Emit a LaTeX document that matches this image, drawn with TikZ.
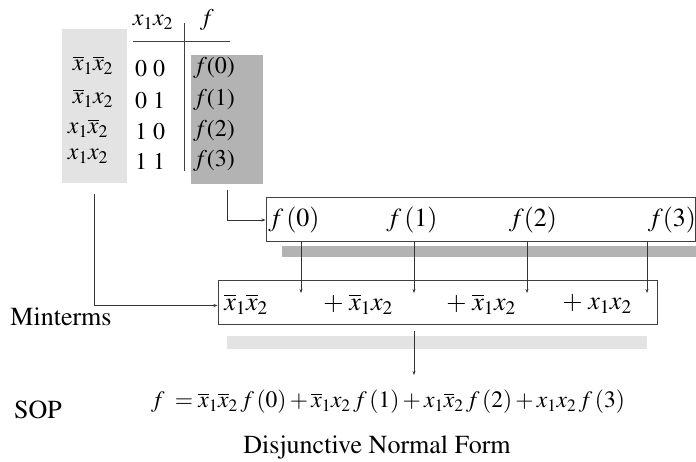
\documentclass[tikz,border=0pt]{standalone}
\usepackage[T1]{fontenc}
\usepackage{mathptmx}
\usetikzlibrary{arrows.meta}

\definecolor{lightbar}{HTML}{E3E3E3}
\definecolor{darkbar}{HTML}{B3B3B3}
\definecolor{boxline}{HTML}{404040}

\newcommand{\nx}{\overline{x}}

\tikzset{
  txt/.style={font=\rmfamily\fontsize{26}{29}\selectfont, inner sep=0pt},
  tbl/.style={font=\rmfamily\fontsize{24}{27}\selectfont, inner sep=0pt},
  eqn/.style={font=\rmfamily\fontsize{23.5}{26}\selectfont, inner sep=0pt},
  framebox/.style={draw=boxline, line width=1pt, inner sep=0pt},
  conn/.style={draw=black!80, line width=0.7pt, -{Stealth[length=4pt,width=3pt]}},
}

\begin{document}
\begin{tikzpicture}[x=1pt, y=-1pt]
  \useasboundingbox (0,0) rectangle (696,462);

  % -- Truth table columns --
  \node[fill=lightbar, minimum width=65pt, minimum height=154pt, inner sep=0pt] (mt) at (94.5,106) {};
  \node[fill=darkbar, minimum width=72pt, minimum height=129pt, inner sep=0pt] (fcol) at (227,119.5) {};

  % -- Header and rules --
  \node[tbl] (hx) at (153,22) {$x_1x_2$};
  \node[tbl] (hf) at (207,20) {$f$};
  \draw[draw=boxline, line width=1pt] (133,42) -- (230,42);
  \draw[draw=boxline, line width=1pt] (184,23) -- (184,171);

  % -- Rows --
  \node[tbl] (m0) at (93,65) {$\nx_1\nx_2$};
  \node[tbl] (m1) at (93,98) {$\nx_1x_2$};
  \node[tbl] (m2) at (88,128) {$x_1\nx_2$};
  \node[tbl] (m3) at (88,156) {$x_1x_2$};
  \node[tbl] (b0) at (150,68) {0 0};
  \node[tbl] (b1) at (150,100) {0 1};
  \node[tbl] (b2) at (150,131) {1 0};
  \node[tbl] (b3) at (150,161) {1 1};
  \node[tbl, anchor=west] (v0) at (193,68) {$f$(0)};
  \node[tbl, anchor=west] (v1) at (193,100) {$f$(1)};
  \node[tbl, anchor=west] (v2) at (193,131) {$f$(2)};
  \node[tbl, anchor=west] (v3) at (193,161) {$f$(3)};

  % -- Function values box --
  \node[framebox, minimum width=429pt, minimum height=44pt] (fbox) at (480.5,220) {};
  \fill[darkbar] (282,246) rectangle (696,257);
  \node[txt] (f0) at (294,220) {$f\,(0)$};
  \node[txt] (f1) at (412,220) {$f\,(1)$};
  \node[txt] (f2) at (533,220) {$f(2)$};
  \node[txt] (f3) at (672,220) {$f(3)$};

  % -- Minterms box --
  \node[framebox, minimum width=439pt, minimum height=43pt] (mbox) at (437.5,302.5) {};
  \fill[lightbar] (227,336) rectangle (647,349);
  \node[txt] (t0) at (246,304) {$\nx_1\nx_2$};
  \node[txt] (t1) at (358,304) {$+\;\nx_1x_2$};
  \node[txt] (t2) at (481,304) {$+\;\nx_1x_2$};
  \node[txt] (t3) at (597,304) {$+\;x_1x_2$};

  % -- Arrow ends --
  \coordinate (d0) at (301,293);
  \coordinate (d1) at (414,293);
  \coordinate (d2) at (527,293);
  \coordinate (d3) at (647,293);
  \coordinate (dn) at (414,375);

  % -- Connectors --
  \draw[conn] ([yshift=-6pt]fcol.south) |- (fbox.west);
  \draw[conn] ([yshift=-11pt]mt.south) |- ([yshift=-3pt]mbox.west);
  \foreach \k in {0,...,3}
    \draw[conn] (d\k |- fbox.south) -- (d\k);
  \draw[conn] ([yshift=-6pt]mbox.south -| dn) -- (dn);

  % -- Result --
  \node[eqn] (sop) at (388,402) {$f\;=\nx_1\nx_2\,f\,(0)+\nx_1x_2\,f\,(1)+x_1\nx_2\,f\,(2)+x_1x_2\,f\,(3)$};
  \node[txt] (lmin) at (61,317) {Minterms};
  \node[txt] (lsop) at (38,410) {SOP};
  \node[txt] (ldnf) at (377,447) {Disjunctive Normal Form};

\end{tikzpicture}
\end{document}
